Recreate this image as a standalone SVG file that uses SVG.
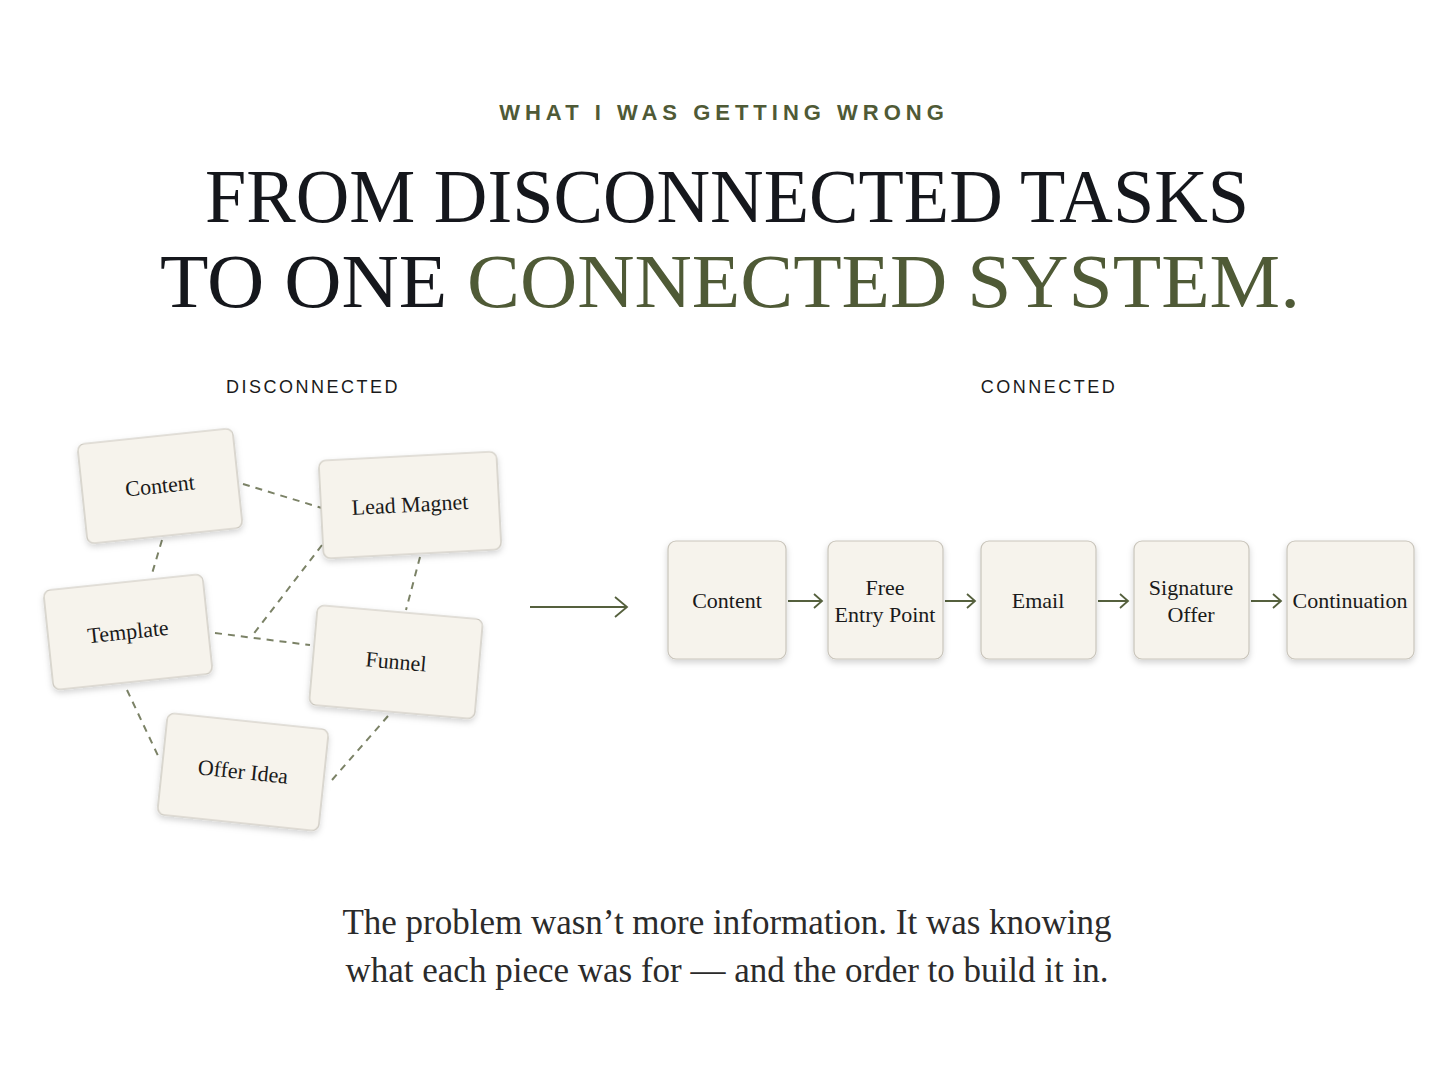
<svg xmlns="http://www.w3.org/2000/svg" width="1448" height="1086" viewBox="0 0 1448 1086">
<style>
.card{fill:#f6f3ec;stroke:#c9c5bb;stroke-width:1.2;filter:url(#sh)}
.ct{font-family:"Liberation Serif",serif;font-size:22px;fill:#1a1a1a;text-anchor:middle}
.dash{stroke:#7b8266;stroke-width:2;stroke-dasharray:7 6;fill:none}
.ar{stroke:#55603d;stroke-width:1.8;fill:none}
.lbl{font-family:"Liberation Sans",sans-serif;font-size:18px;letter-spacing:2.5px;fill:#1a1a1a;text-anchor:middle}
</style>
<defs>
<filter id="sh" x="-20%" y="-20%" width="140%" height="150%"><feDropShadow dx="0" dy="3" stdDeviation="3" flood-color="#000" flood-opacity="0.18"/></filter>
</defs>
<rect width="1448" height="1086" fill="#fff"/>
<text x="724" y="120" font-family="Liberation Sans,sans-serif" font-weight="bold" font-size="22" letter-spacing="5" fill="#4f5a36" text-anchor="middle">WHAT I WAS GETTING WRONG</text>
<text x="727" y="222" font-family="Liberation Serif,serif" font-size="76" fill="#15171c" text-anchor="middle" textLength="1044" lengthAdjust="spacingAndGlyphs">FROM DISCONNECTED TASKS</text>
<text x="730" y="307" font-family="Liberation Serif,serif" font-size="76" fill="#15171c" text-anchor="middle" textLength="1140" lengthAdjust="spacingAndGlyphs">TO ONE <tspan fill="#4f5a36">CONNECTED SYSTEM.</tspan></text>
<text class="lbl" x="313" y="393">DISCONNECTED</text>
<text class="lbl" x="1049" y="393">CONNECTED</text>
<g id="connectors">
<path class="dash" d="M243 484L322 508M162 540L151 577M322 545L252 636M215 633L310 645M420 557L406 610M127 690L160 760M388 716L332 780"/>
<path class="ar" d="M530 607H627M615 597L627 607L615 617" stroke-width="2.5"/>
<path class="ar" d="M788 601H822M814 594L822 601L814 608M945 601H975M967 594L975 601L967 608M1098 601H1128M1120 594L1128 601L1120 608M1251 601H1281M1273 594L1281 601L1273 608"/>
</g>
<g id="d-content" transform="translate(160,486) rotate(-6)"><rect class="card" x="-78" y="-50" width="156" height="100" rx="7"/><text class="ct" y="7">Content</text></g>
<g id="d-lead" transform="translate(410,505) rotate(-3)"><rect class="card" x="-89" y="-49" width="178" height="98" rx="7"/><text class="ct" y="7">Lead Magnet</text></g>
<g id="d-template" transform="translate(128,632) rotate(-6)"><rect class="card" x="-80" y="-50" width="160" height="100" rx="7"/><text class="ct" y="7">Template</text></g>
<g id="d-funnel" transform="translate(396,662) rotate(5)"><rect class="card" x="-83" y="-50" width="166" height="100" rx="7"/><text class="ct" y="7">Funnel</text></g>
<g id="d-offer" transform="translate(243,772) rotate(6)"><rect class="card" x="-81" y="-51" width="162" height="102" rx="7"/><text class="ct" y="7">Offer Idea</text></g>
<g id="c-content"><rect class="card" x="668" y="541" width="118" height="118" rx="8"/><text class="ct" x="727" y="608">Content</text></g>
<g id="c-free"><rect class="card" x="828" y="541" width="115" height="118" rx="8"/><text class="ct" x="885" y="595">Free</text><text class="ct" x="885" y="622">Entry Point</text></g>
<g id="c-email"><rect class="card" x="981" y="541" width="115" height="118" rx="8"/><text class="ct" x="1038" y="608">Email</text></g>
<g id="c-sig"><rect class="card" x="1134" y="541" width="115" height="118" rx="8"/><text class="ct" x="1191" y="595">Signature</text><text class="ct" x="1191" y="622">Offer</text></g>
<g id="c-cont"><rect class="card" x="1287" y="541" width="127" height="118" rx="8"/><text class="ct" x="1350" y="608">Continuation</text></g>
<text x="727" y="934" font-family="Liberation Serif,serif" font-size="35" fill="#2b2b2b" text-anchor="middle">The problem wasn’t more information. It was knowing</text>
<text x="727" y="982" font-family="Liberation Serif,serif" font-size="35" fill="#2b2b2b" text-anchor="middle">what each piece was for — and the order to build it in.</text>
</svg>
